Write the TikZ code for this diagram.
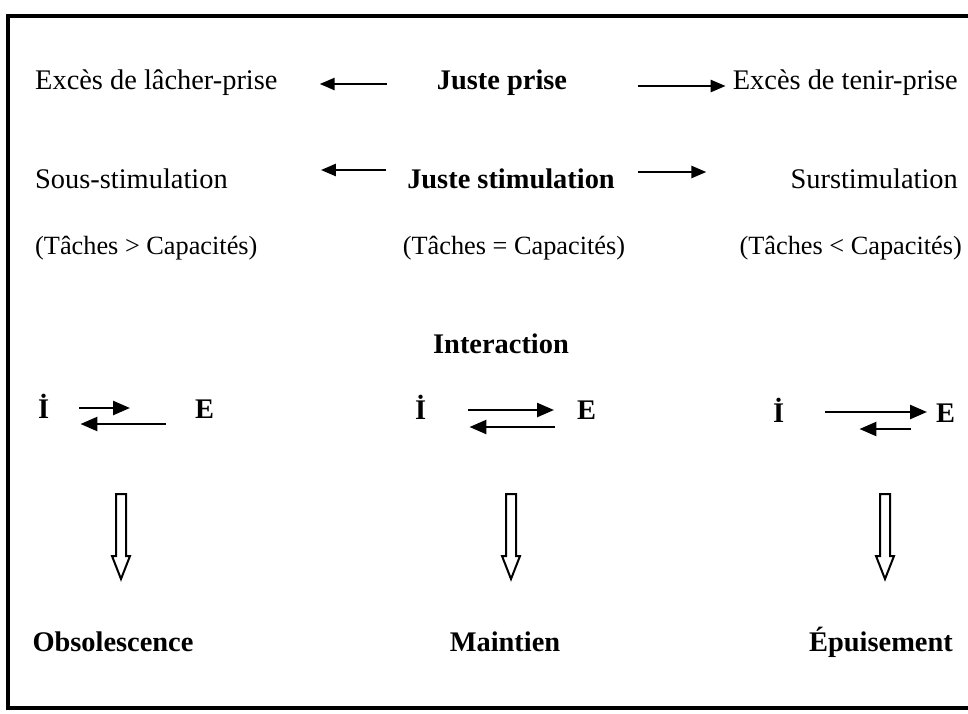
\documentclass[tikz,border=0pt]{standalone}
\usepackage{fontspec}
\setmainfont{Liberation Serif}
\usetikzlibrary{positioning}
\usetikzlibrary{arrows.meta}

\begin{document}
\begin{tikzpicture}[x=1pt, y=-1pt,
    lbl/.style={inner sep=0pt, font=\fontsize{28.4}{34}\selectfont, text height=20pt, text depth=6pt},
    key/.style={lbl, font=\fontsize{28.4}{34}\selectfont\bfseries},
    small/.style={lbl, font=\fontsize{26.3}{32}\selectfont},
    arr/.style={-{Triangle[length=15pt,width=12pt]}, line width=2.5pt},
    ie/.style={-{Triangle[length=17pt,width=14pt]}, line width=2.5pt},
    hollow/.style={draw=black, line width=2pt, fill=white, line join=miter}]

    \useasboundingbox (0,0) rectangle (968,713);
    \clip (0,0) rectangle (968,713);
    \draw[line width=4pt] (8,16) rectangle (990,708);

    % prise
    \node[lbl, anchor=base west] (ELP) at (35,89) {Excès de lâcher-prise};
    \node[key, anchor=base] (JP) at (502,89) {Juste prise};
    \node[lbl, anchor=base east] (ETP) at (958,89) {Excès de tenir-prise};

    % stimulation
    \node[lbl, anchor=base west] (SOUS) at (35,188) {Sous-stimulation};
    \node[key, anchor=base] (JS) at (511,188) {Juste stimulation};
    \node[lbl, anchor=base east] (SUR) at (958,188) {Surstimulation};

    \node[small, anchor=base west] (TSUP) at (35,254) {(Tâches > Capacités)};
    \node[small, anchor=base] (TEQ) at (514,254) {(Tâches = Capacités)};
    \node[small, anchor=base east] (TINF) at (962,254) {(Tâches < Capacités)};

    \draw[arr, shorten <=50pt, shorten >=42pt] ([yshift=-2pt]JP.west) -- ([yshift=-2pt]ELP.east);
    \draw[arr, shorten <=71pt, shorten >=7pt] ([yshift=-4pt]JP.east) -- ([yshift=-4pt]ETP.west);
    \draw[arr, shorten <=21pt, shorten >=93pt] ([yshift=11pt]JS.west) -- ([yshift=11pt]SOUS.east);
    \draw[arr, shorten <=23pt, shorten >=84pt] ([yshift=9pt]JS.east) -- ([yshift=9pt]SUR.west);

    % interaction
    \node[key, anchor=base] (INT) at (501,353) {Interaction};

    \node[key, anchor=base west] (I1) at (38,418) {İ};
    \node[key, anchor=base west] (E1) at (195,418) {E};
    \node[key, anchor=base west] (I2) at (415,419) {İ};
    \node[key, anchor=base west] (E2) at (577,419) {E};
    \node[key, anchor=base west] (I3) at (773,422) {İ};
    \node[key, anchor=base west] (E3) at (936,422) {E};

    \draw[ie, shorten <=30pt, shorten >=65pt] ([yshift=3pt]I1.east) -- ([yshift=3pt]E1.west);
    \draw[ie, shorten <=29pt, shorten >=31pt] ([yshift=-13pt]E1.west) -- ([yshift=-13pt]I1.east);
    \draw[ie, shorten <=42pt, shorten >=23pt] ([yshift=2pt]I2.east) -- ([yshift=2pt]E2.west);
    \draw[ie, shorten <=22pt, shorten >=43pt] ([yshift=-15pt]E2.west) -- ([yshift=-15pt]I2.east);
    \draw[ie, shorten <=41pt, shorten >=9pt] ([yshift=3pt]I3.east) -- ([yshift=3pt]E3.west);
    \draw[ie, shorten <=25pt, shorten >=75pt] ([yshift=-14pt]E3.west) -- ([yshift=-14pt]I3.east);

    % outcomes
    \foreach \x in {121,511,885}
        \draw[hollow] (\x-5,494) -- (\x+5,494) -- (\x+5,556) -- (\x+9,556)
            -- (\x,579) -- (\x-9,556) -- (\x-5,556) -- cycle;

    \node[key, anchor=base] (OBS) at (113,651) {Obsolescence};
    \node[key, anchor=base] (MAIN) at (505,651) {Maintien};
    \node[key, anchor=base] (EPU) at (881,651) {Épuisement};
\end{tikzpicture}
\end{document}
